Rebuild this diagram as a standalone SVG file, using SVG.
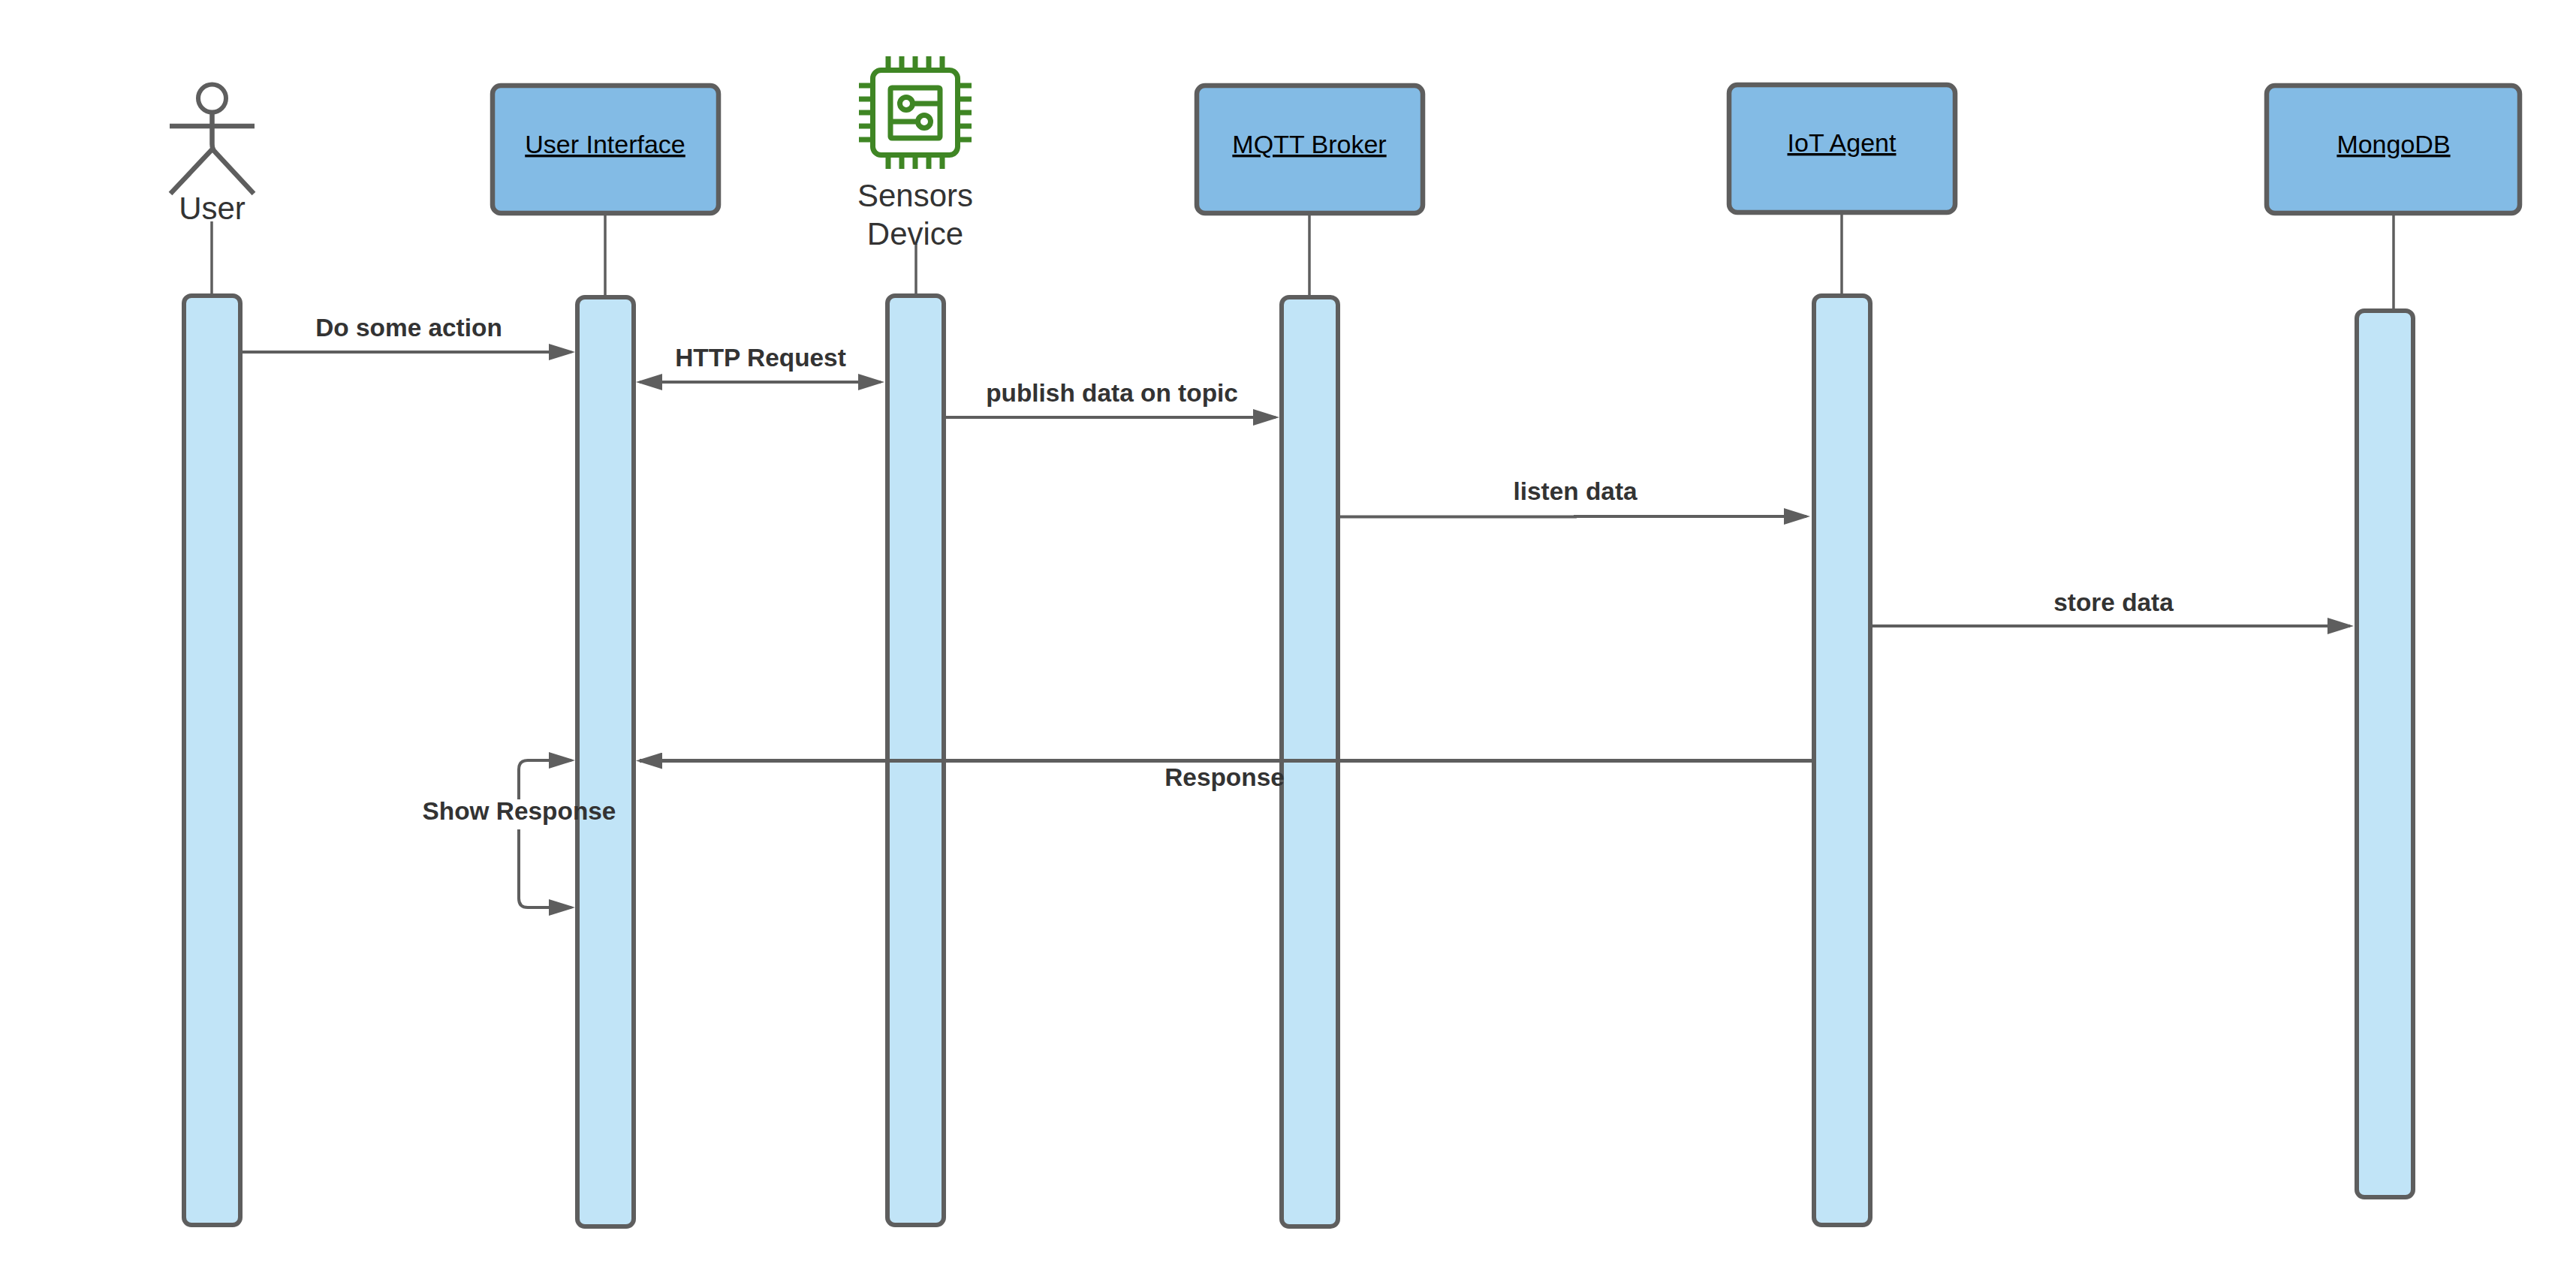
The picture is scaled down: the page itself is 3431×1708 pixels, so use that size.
<svg xmlns="http://www.w3.org/2000/svg" width="3431" height="1708" viewBox="0 0 3431 1708">
<style>
.box{fill:#83bbe5;stroke:#5e5e5e;stroke-width:6.5}
.bar{fill:#c1e4f7;stroke:#5e5e5e;stroke-width:6}
.life{fill:none;stroke:#5e5e5e;stroke-width:3.5}
.msg{fill:none;stroke:#5e5e5e;stroke-width:4}
.thick{stroke-width:5}
.end{marker-end:url(#arrow)}
.start{marker-start:url(#arrowStart)}
.chip{fill:none;stroke:#3f8624;stroke-width:7}
.fig{fill:none;stroke:#5e5e5e;stroke-width:6.5}
.head{stroke-width:6}
text{font-family:"Liberation Sans",Arial,sans-serif;text-anchor:middle;fill:#333}
.big{font-size:42px}
.name{font-size:34px;fill:#000;text-decoration:underline}
.lab{font-size:33.4px;font-weight:bold}
</style>
<defs>
<marker id="arrow" markerUnits="userSpaceOnUse" markerWidth="35" markerHeight="22" viewBox="0 0 35 22" refX="30" refY="11" orient="auto"><path d="M0 0L35 11L0 22Z" fill="#5e5e5e"/></marker>
<marker id="arrowStart" markerUnits="userSpaceOnUse" markerWidth="35" markerHeight="22" viewBox="0 0 35 22" refX="5" refY="11" orient="auto"><path d="M35 0L0 11L35 22Z" fill="#5e5e5e"/></marker>
</defs>
<g id="lifelines">
<path class="life" d="M282 295V391"/>
<path class="life" d="M806 285V394"/>
<path class="life" d="M1220 325V391"/>
<path class="life" d="M1744 285V394"/>
<path class="life" d="M2453 284V391"/>
<path class="life" d="M3188 285V412"/>
</g>
<g id="user">
<circle class="fig head" cx="282.500" cy="131" r="18.500"/>
<path class="fig" d="M282.500 152V192Q282.500 199 287 203L338 258M282.500 199L227 258M226 168H339"/>
<text class="big" x="282.500" y="292">User</text>
</g>
<g id="ui"><rect class="box" x="656" y="114" width="301" height="170" rx="11"/><text class="name" x="806" y="204">User Interface</text></g>
<g id="sensors">
<rect class="chip" x="1162.500" y="93.500" width="113" height="113" rx="11"/>
<path class="chip" d="M1183 75V90M1201 75V90M1219 75V90M1237 75V90M1255 75V90M1183 210V225M1201 210V225M1219 210V225M1237 210V225M1255 210V225M1144 114H1159M1144 132H1159M1144 150H1159M1144 168H1159M1144 186H1159M1279 114H1294M1279 132H1294M1279 150H1294M1279 168H1294M1279 186H1294"/>
<rect class="chip" x="1186" y="117" width="66" height="67" rx="2"/>
<circle class="chip" cx="1207" cy="138" r="8.500"/>
<circle class="chip" cx="1231" cy="162" r="8.500"/>
<path class="chip" d="M1216 138H1252M1186 162H1222"/>
<text class="big" x="1219" y="275">Sensors</text>
<text class="big" x="1219" y="325.500">Device</text>
</g>
<g id="mqtt"><rect class="box" x="1594" y="114" width="301" height="170" rx="11"/><text class="name" x="1744" y="204">MQTT Broker</text></g>
<g id="iot"><rect class="box" x="2303" y="113" width="301" height="170" rx="11"/><text class="name" x="2453" y="202">IoT Agent</text></g>
<g id="mongo"><rect class="box" x="3019" y="114" width="337" height="170" rx="11"/><text class="name" x="3188" y="204">MongoDB</text></g>
<g id="bars">
<rect id="bar-user" class="bar" x="245" y="394" width="75" height="1238" rx="10"/>
<rect id="bar-ui" class="bar" x="769" y="396" width="75" height="1238" rx="10"/>
<rect id="bar-sensors" class="bar" x="1182" y="394" width="75" height="1238" rx="10"/>
<rect id="bar-mqtt" class="bar" x="1707" y="396" width="75" height="1238" rx="10"/>
<rect id="bar-iot" class="bar" x="2416" y="394" width="75" height="1238" rx="10"/>
<rect id="bar-mongo" class="bar" x="3139" y="414" width="75" height="1181" rx="10"/>
</g>
<g id="connectors">
<path class="msg end" d="M323 469H761"/>
<path class="msg end start" d="M852 509H1173"/>
<path class="msg end" d="M1260 556H1699"/>
<path class="msg end" d="M1784 688.500H2098V688H2406"/>
<path class="msg end" d="M2493 834H3130"/>
<path class="msg thick end" d="M2414 1013.500H852"/>
<path class="msg end" d="M691 1065V1025Q691 1013 703 1013H761"/>
<path class="msg end" d="M691 1105V1197Q691 1209 703 1209H761"/>
</g>
<g id="labels">
<text class="lab" x="544.500" y="448">Do some action</text>
<text class="lab" x="1013" y="488">HTTP Request</text>
<text class="lab" x="1481" y="535">publish data on topic</text>
<text class="lab" x="2098" y="666">listen data</text>
<text class="lab" x="2815" y="814">store data</text>
<text class="lab" x="1631" y="1047">Response</text>
<text class="lab" x="691.500" y="1092">Show Response</text>
</g>
</svg>
